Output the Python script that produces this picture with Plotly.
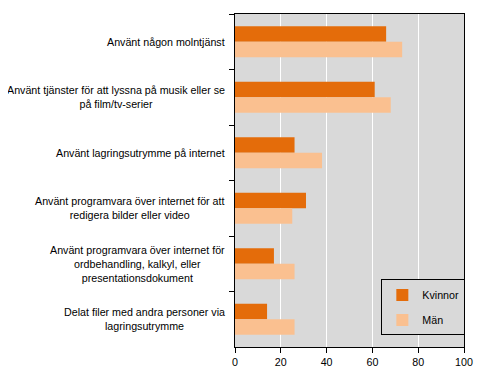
import plotly.graph_objects as go

categories = [
    "Använt någon molntjänst",
    "Använt tjänster för att lyssna på musik eller se<br>på film/tv-serier",
    "Använt lagringsutrymme på internet",
    "Använt programvara över internet för att<br>redigera bilder eller video",
    "Använt programvara över internet för<br>ordbehandling, kalkyl, eller<br>presentationsdokument",
    "Delat filer med andra personer via<br>lagringsutrymme",
]
kvinnor = [66, 61, 26, 31, 17, 14]
man = [73, 68, 38, 25, 26, 26]
x_ticks = [0, 20, 40, 60, 80, 100]

FONT = "Liberation Sans, Arial, sans-serif"

fig = go.Figure()
fig.add_trace(go.Bar(y=categories, x=kvinnor, name="Kvinnor", orientation="h",
                     marker=dict(color="#E46C0A", line=dict(width=0)), legendgroup="k"))
fig.add_trace(go.Bar(y=categories, x=man, name="Män", orientation="h",
                     marker=dict(color="#FAC090", line=dict(width=0)), legendgroup="m"))

for c in categories:
    fig.add_annotation(x=0, xref="paper", y=c, yref="y", text=c, showarrow=False,
                       xanchor="right", align="center", xshift=-8,
                       font=dict(family=FONT, size=10.7, color="#000000"))

fig.update_layout(
    width=480, height=367,
    margin=dict(l=227, r=24, t=6, b=28),
    paper_bgcolor="white", plot_bgcolor="#D9D9D9",
    barmode="group", bargap=0.44, bargroupgap=0,
    font=dict(family=FONT, size=10.7, color="#000000"),
    showlegend=True,
    legend=dict(x=0.639, y=0.203, xanchor="left", yanchor="top",
                bgcolor="#D9D9D9", bordercolor="#000000", borderwidth=1,
                traceorder="grouped", tracegroupgap=6, itemwidth=30,
                font=dict(family=FONT, size=10.7, color="#000000")),
)
fig.update_xaxes(range=[0, 100], tickvals=x_ticks, showgrid=True, gridcolor="white", gridwidth=1,
                 showline=True, linecolor="black", linewidth=1, mirror=True,
                 ticks="outside", ticklen=5, tickcolor="black", zeroline=False)
fig.update_yaxes(autorange="reversed", showticklabels=False, tickson="boundaries",
                 showline=True, linecolor="black", linewidth=1, mirror=True,
                 ticks="outside", ticklen=5, tickcolor="black", showgrid=False)

fig.write_html("out.html")
